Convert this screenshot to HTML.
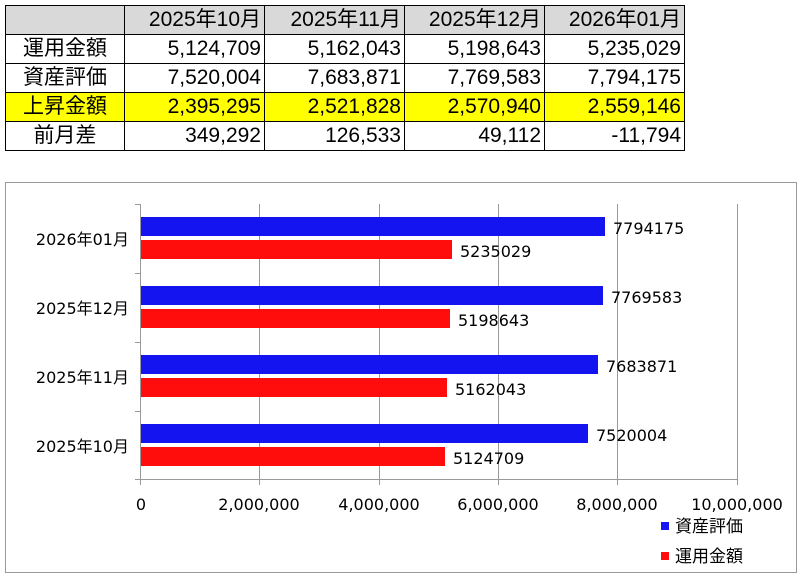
<!DOCTYPE html>
<html><head><meta charset="utf-8"><style>
body{margin:0;width:803px;height:578px;background:#fff;overflow:hidden;position:relative;font-family:"Liberation Sans","Noto Sans CJK JP",sans-serif}
table{position:absolute;left:5px;top:5px;border-collapse:collapse;font-size:21px}
td{border:1.5px solid #000;height:28px;padding:0 3px 0 0;text-align:right;width:136px;line-height:28px}
td.h{text-align:center;width:118px;padding:0}
tr.hd td{background:#d9d9d9}
tr.y td{background:#ffff00}
svg{position:absolute;left:0;top:0}
</style></head><body>
<table>
<tr class="hd"><td class="h"></td><td>2025年10月</td><td>2025年11月</td><td>2025年12月</td><td>2026年01月</td></tr>
<tr><td class="h">運用金額</td><td>5,124,709</td><td>5,162,043</td><td>5,198,643</td><td>5,235,029</td></tr>
<tr><td class="h">資産評価</td><td>7,520,004</td><td>7,683,871</td><td>7,769,583</td><td>7,794,175</td></tr>
<tr class="y"><td class="h">上昇金額</td><td>2,395,295</td><td>2,521,828</td><td>2,570,940</td><td>2,559,146</td></tr>
<tr><td class="h">前月差</td><td>349,292</td><td>126,533</td><td>49,112</td><td>-11,794</td></tr>
</table>
<svg width="803" height="578" font-family="'DejaVu Sans','Noto Sans CJK JP',sans-serif" font-size="16">
<rect x="5.5" y="182.5" width="791" height="390" fill="#fff" stroke="#999"/>
<g stroke="#999" stroke-width="1">
<line x1="259.5" y1="204" x2="259.5" y2="485"/>
<line x1="379.5" y1="204" x2="379.5" y2="485"/>
<line x1="498.5" y1="204" x2="498.5" y2="485"/>
<line x1="617.5" y1="204" x2="617.5" y2="485"/>
<line x1="737.5" y1="204" x2="737.5" y2="485"/>
<line x1="140.5" y1="204" x2="140.5" y2="485"/>
<line x1="140" y1="479.5" x2="737" y2="479.5"/>
<line x1="135" y1="204.5" x2="140" y2="204.5"/>
<line x1="135" y1="273.5" x2="140" y2="273.5"/>
<line x1="135" y1="342.5" x2="140" y2="342.5"/>
<line x1="135" y1="411.5" x2="140" y2="411.5"/>
<line x1="135" y1="479.5" x2="140" y2="479.5"/>
</g>
<g>
<rect x="141" y="217" width="464" height="19" fill="#1414f0"/>
<rect x="141" y="240" width="311" height="19" fill="#ff0d0d"/>
<rect x="141" y="286" width="462" height="19" fill="#1414f0"/>
<rect x="141" y="309" width="309" height="19" fill="#ff0d0d"/>
<rect x="141" y="355" width="457" height="19" fill="#1414f0"/>
<rect x="141" y="378" width="306" height="19" fill="#ff0d0d"/>
<rect x="141" y="424" width="447" height="19" fill="#1414f0"/>
<rect x="141" y="447" width="304" height="19" fill="#ff0d0d"/>
</g>
<g fill="#000">
<text x="613" y="234">7794175</text>
<text x="460" y="257">5235029</text>
<text x="611" y="303">7769583</text>
<text x="458" y="326">5198643</text>
<text x="606" y="372">7683871</text>
<text x="455" y="395">5162043</text>
<text x="596" y="441">7520004</text>
<text x="453" y="464">5124709</text>
<g text-anchor="end">
<text x="129" y="245">2026年01月</text>
<text x="129" y="314">2025年12月</text>
<text x="129" y="383">2025年11月</text>
<text x="129" y="452">2025年10月</text>
</g>
<g text-anchor="middle">
<text x="141" y="510">0</text>
<text x="259" y="510">2,000,000</text>
<text x="379" y="510">4,000,000</text>
<text x="498" y="510">6,000,000</text>
<text x="617" y="510">8,000,000</text>
<text x="737" y="510">10,000,000</text>
</g>
<rect x="661" y="522" width="8" height="8" fill="#1414f0"/>
<text x="675" y="532" font-size="17">資産評価</text>
<rect x="661" y="552" width="8" height="8" fill="#ff0d0d"/>
<text x="675" y="562" font-size="17">運用金額</text>
</g>
</svg>
</body></html>
